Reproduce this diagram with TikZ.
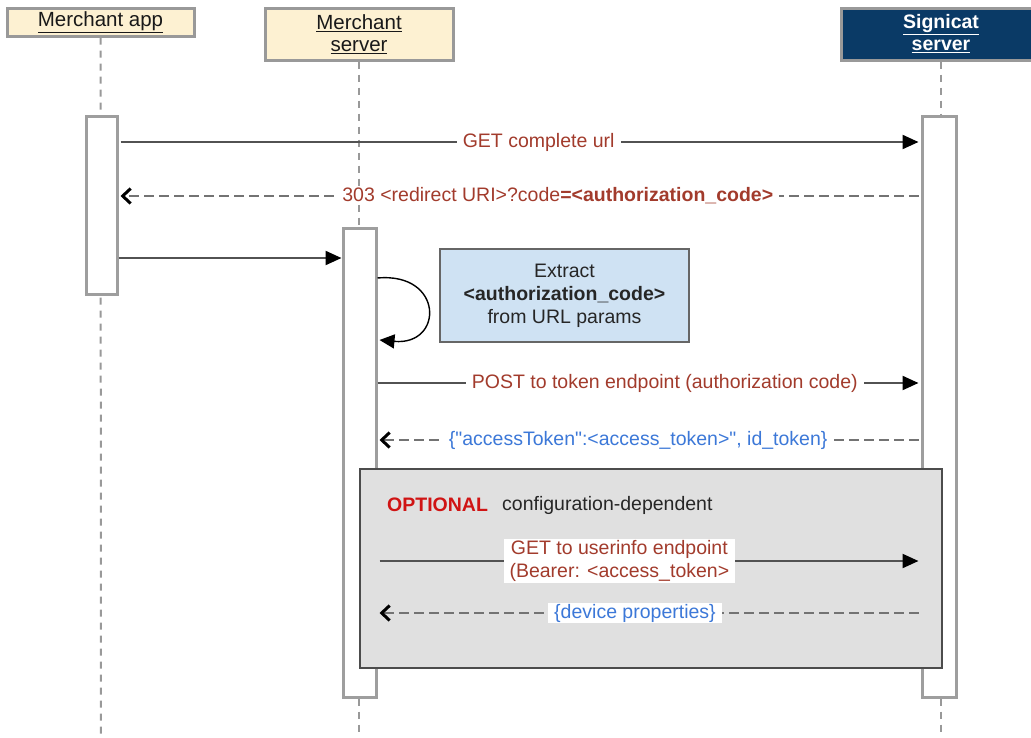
\documentclass[tikz,border=0pt]{standalone}
\usepackage{fontspec}
\setmainfont{Liberation Sans}
\usetikzlibrary{arrows.meta}

\definecolor{hdrfill}{HTML}{FDF1D2}
\definecolor{navy}{HTML}{0A3A66}
\definecolor{msgred}{HTML}{A23B2C}
\definecolor{msgblue}{HTML}{3C78D8}
\definecolor{optred}{HTML}{D01414}
\definecolor{notefill}{HTML}{CFE2F3}
\definecolor{optfill}{HTML}{E0E0E0}

\newcommand\txtsize{\fontsize{19.5}{23}\selectfont}
\newcommand\hdrsize{\fontsize{20.5}{23}\selectfont}

\tikzset{
  x=1pt, y=-1pt,
  hdr/.style={draw=black!40, line width=3pt, fill=hdrfill, text=black!90,
    align=center, font=\hdrsize, inner sep=0pt},
  hdrdark/.style={hdr, fill=navy, text=white, font=\txtsize\bfseries},
  life/.style={draw=black!40, line width=2pt, dash pattern=on 7pt off 6pt},
  act/.style={draw=black!38, line width=3pt, fill=white, inner sep=0pt},
  msg/.style={draw=black!68, line width=2.2pt,
    -{Triangle[length=16pt,width=14pt,black]}},
  reply/.style={draw=black!55, line width=2.2pt, dash pattern=on 10pt off 5pt,
    -{Straight Barb[length=8pt,width=15pt,black,line width=3pt]}},
  lbl/.style={fill=white, font=\txtsize, inner xsep=6pt, inner ysep=1pt,
    align=center},
  selfmsg/.style={draw=black, line width=1.4pt,
    -{Triangle[length=15pt,width=14pt,black]}},
  note/.style={draw=black!60, line width=1.5pt, fill=notefill, text=black!85,
    align=center, font=\txtsize, inner sep=0pt},
  frame/.style={draw=black!70, line width=1.5pt, fill=optfill, inner sep=0pt},
}

\begin{document}
\begin{tikzpicture}
\useasboundingbox (0,0) rectangle (1031,737);
\clip (0,0) rectangle (1031,737);

% participants
\node[hdr, minimum width=187pt, minimum height=28pt] (app) at (100.5,22) {\underline{Merchant app}};
\node[hdr, minimum width=188pt, minimum height=52pt] (ms) at (359,34) {\underline{Merchant}\\[-1pt]\underline{server}};
\node[hdrdark, minimum width=200pt, minimum height=52pt] (sig) at (941,34) {\underline{Signicat}\\[-1pt]\underline{server}};

% lifeline ends
\coordinate (append) at (101,737);
\coordinate (msend) at (359,737);
\coordinate (sigend) at (941,737);

\draw[life] (app.south) -- (append);
\draw[life] (ms.south) -- (msend);
\draw[life] (sig.south) -- (sigend);

% activation bars
\node[act, minimum width=31pt, minimum height=178pt] (appact) at (101.5,205) {};
\node[act, minimum width=33pt, minimum height=469pt] (msact) at (359.5,462.5) {};
\node[act, minimum width=34pt, minimum height=581pt] (sigact) at (939,406.5) {};

% message rows
\coordinate (r1) at (0,142);
\coordinate (r2) at (0,196);
\coordinate (r3) at (0,258);
\coordinate (s1) at (0,278);
\coordinate (s2) at (0,340);
\coordinate (r4) at (0,383);
\coordinate (r5) at (0,440);
\coordinate (r6) at (0,561);
\coordinate (r7) at (0,613);

\draw[msg] ([xshift=2pt]appact.east |- r1) -- node[lbl, pos=0.524, text=msgred] {GET complete url} ([xshift=-2pt]sigact.west |- r1);
\draw[reply] ([xshift=-2pt]sigact.west |- r2) -- node[lbl, pos=0.452, text=msgred] {303 {<}redirect URI{>}?code\textbf{={<}authorization\_code{>}}} ([xshift=2pt]appact.east |- r2);
\draw[msg] (appact.east |- r3) -- (msact.west |- r3);

% internal step
\draw[selfmsg] (msact.east |- s1) .. controls (444,272) and (444,346) .. ([xshift=2pt]msact.east |- s2);
\node[note, minimum width=249pt, minimum height=93pt] (extract) at (564.5,295.5) {Extract\\\textbf{{<}authorization\_code{>}}\\from URL params};

\draw[msg] (msact.east |- r4) -- node[lbl, pos=0.531, text=msgred] {POST to token endpoint (authorization code)} ([xshift=-2pt]sigact.west |- r4);
\draw[reply] ([xshift=-2pt]sigact.west |- r5) -- node[lbl, pos=0.52, text=msgblue] {\{\textquotedbl accessToken\textquotedbl:{<}access\_token{>}\textquotedbl, id\_token\}} ([xshift=2pt]msact.east |- r5);

% optional fragment
\node[frame, minimum width=582pt, minimum height=199pt] (opt) at (651,568.5) {};
\node[anchor=west, font=\txtsize\bfseries, text=optred, inner sep=0pt] (optkw) at (387,505) {OPTIONAL};
\node[anchor=west, font=\txtsize, text=black!85, inner sep=0pt] (optcond) at (502,505) {configuration-dependent};

\draw[msg] ([xshift=2pt]msact.east |- r6) -- node[lbl, pos=0.445, text=msgred] {GET to userinfo endpoint\\(Bearer: {<}access\_token{>}} ([xshift=-2pt]sigact.west |- r6);
\draw[reply] ([xshift=-2pt]sigact.west |- r7) -- node[lbl, pos=0.526, text=msgblue] {\{device properties\}} ([xshift=2pt]msact.east |- r7);
\end{tikzpicture}
\end{document}
